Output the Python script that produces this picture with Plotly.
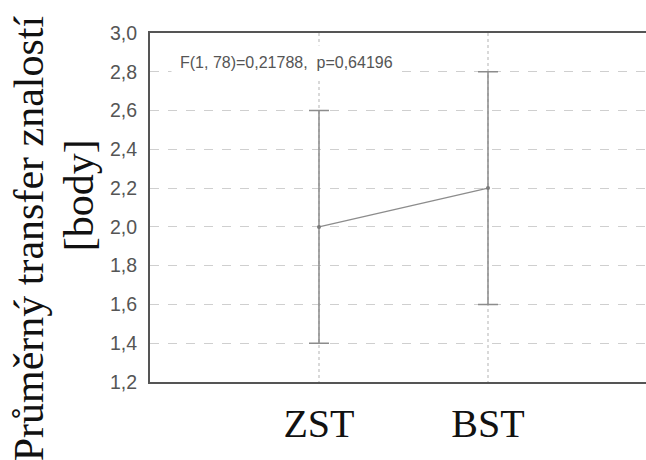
import plotly.graph_objects as go

# Group means with lower / upper confidence limits
groups = ["ZST", "BST"]
means = [2.0, 2.2]
lower = [1.4, 1.6]
upper = [2.6, 2.8]
y_ticks = [1.2, 1.4, 1.6, 1.8, 2.0, 2.2, 2.4, 2.6, 2.8, 3.0]
stat_text = "F(1, 78)=0,21788,  p=0,64196"
y_title_lines = ["Průměrný transfer znalostí", "[body]"]

x_pos = list(range(len(groups)))
err_plus = [u - m for u, m in zip(upper, means)]
err_minus = [m - l for m, l in zip(means, lower)]

fig = go.Figure()
fig.add_trace(go.Scatter(
    x=x_pos, y=means,
    mode="lines+markers",
    line=dict(color="#8c8c8c", width=1.3),
    marker=dict(color="#7a7a7a", size=4),
    error_y=dict(type="data", symmetric=False, array=err_plus,
                 arrayminus=err_minus, color="#8c8c8c",
                 thickness=1.5, width=10),
    showlegend=False,
))

serif = "Liberation Serif, Times New Roman, serif"
sans = "Liberation Sans, Arial, sans-serif"

fig.update_layout(
    width=646, height=460,
    margin=dict(l=150, r=0, t=33, b=78),
    paper_bgcolor="white", plot_bgcolor="white",
    separators=", ",
    xaxis=dict(
        range=[-1, 1.935],
        tickvals=x_pos, ticktext=groups,
        tickfont=dict(family=serif, size=40, color="#111111"),
        showgrid=True, gridcolor="#d9d9d9", griddash="dot", gridwidth=1.5,
        zeroline=False,
        showline=True, linecolor="#555555", linewidth=2, mirror=True,
        ticks="", ticklabelstandoff=5,
    ),
    yaxis=dict(
        range=[1.2, 3.0],
        tickvals=y_ticks, tickformat=".1f",
        tickfont=dict(family=sans, size=19.5, color="#555555"),
        showgrid=True, gridcolor="#cfcfcf", griddash="dash", gridwidth=1.2,
        zeroline=False,
        showline=True, linecolor="#555555", linewidth=2,
        ticks="", ticklabelstandoff=7,
    ),
    annotations=[
        dict(text=stat_text, xref="paper", yref="paper", x=0.042, y=0.915,
             xanchor="left", yanchor="middle", showarrow=False,
             font=dict(family=sans, size=16, color="#555555"),
             bgcolor="white", borderpad=8),
        dict(text=y_title_lines[0], xref="paper", yref="paper",
             x=-0.245, y=0.413, xanchor="center", yanchor="middle",
             textangle=-90, showarrow=False,
             font=dict(family=serif, size=42, color="#111111")),
        dict(text=y_title_lines[1], xref="paper", yref="paper",
             x=-0.143, y=0.535, xanchor="center", yanchor="middle",
             textangle=-90, showarrow=False,
             font=dict(family=serif, size=42, color="#111111")),
    ],
)

fig.write_html("out.html")
